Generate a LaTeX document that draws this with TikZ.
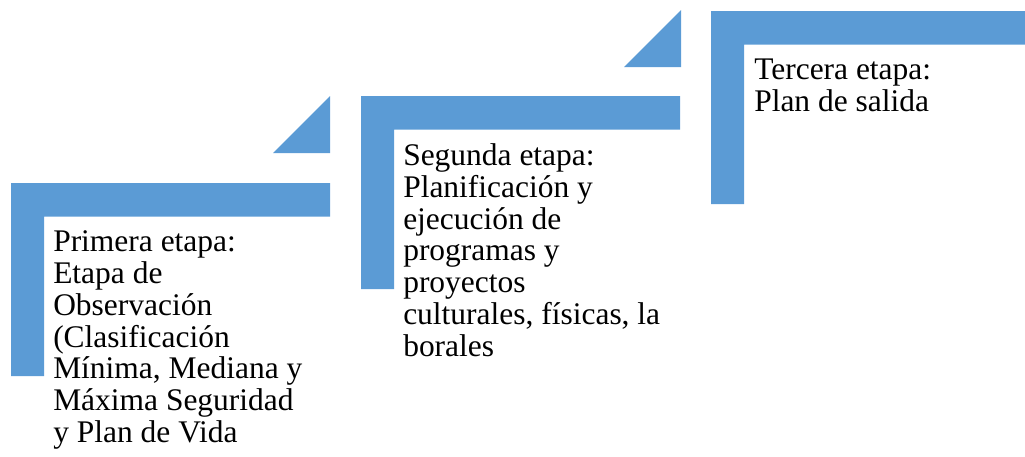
\documentclass[tikz,border=0pt]{standalone}
\usepackage{fontspec}
\setmainfont{Liberation Serif}
\definecolor{etapablue}{HTML}{5B9BD5}
\tikzstyle{etapatext}=[anchor=north west,inner sep=0pt,align=left,font=\fontsize{23.6}{23.8}\selectfont]

\begin{document}
\begin{tikzpicture}[x=0.75pt,y=-0.75pt]
\useasboundingbox (0,0) rectangle (1025,457);

\foreach \x/\y in {11/183,361/96,711/11}{% L-shaped bars
    \fill[etapablue] (\x,\y) -- ++(319,0) -- ++(0,33.5) -- ++(-286,0) -- ++(0,159.5) -- ++(-33,0) -- cycle;
}

\foreach \x/\y in {330/153,681/67}{% triangles
    \fill[etapablue] (\x,\y) -- ++(-57,0) -- ++(57,-57) -- cycle;
}

\node[etapatext] (primera) at (53,230.8) {Primera etapa:\\Etapa de\\Observación\\(Clasificación\\Mínima, Mediana y\\Máxima Seguridad\\y Plan de Vida};
\node[etapatext] (segunda) at (403,143.5) {Segunda etapa:\\Planificación y\\ejecución de\\programas y\\proyectos\\culturales, físicas, la\\borales};
\node[etapatext] (tercera) at (754,58.4) {Tercera etapa:\\Plan de salida};

\end{tikzpicture}
\end{document}
